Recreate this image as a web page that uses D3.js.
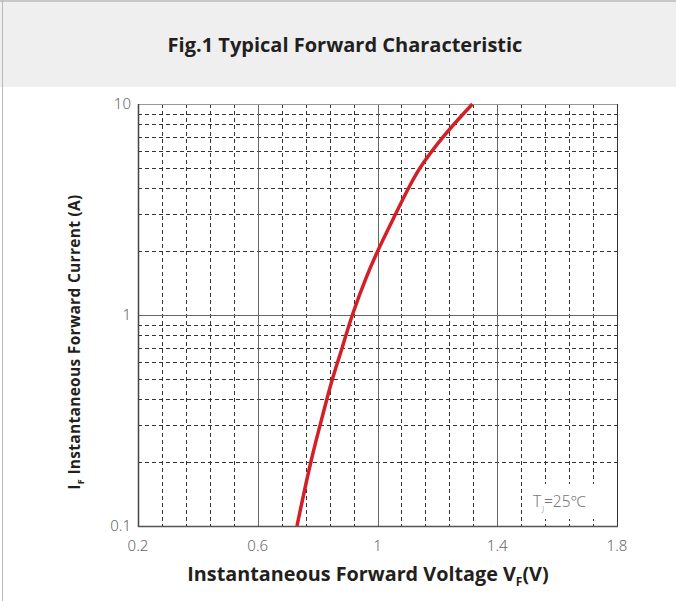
<!DOCTYPE html>
<html>
<head>
<meta charset="utf-8">
<script src="https://cdn.jsdelivr.net/npm/d3@7"></script>
<style>
  body { margin: 0; background: #fff; }
  svg { display: block; }
</style>
</head>
<body>
<div id="chart"></div>
<script>
// forward curve (current in A, voltage in V)
const currentA = [0.1, 0.2, 0.3, 0.4, 0.5, 0.7, 1, 1.5, 2, 3, 4, 5, 7, 10];
const voltageV = [0.731, 0.777, 0.808, 0.831, 0.850, 0.882, 0.916, 0.962, 1.000, 1.060, 1.104, 1.143, 1.220, 1.317];

const xTicks = [0.2, 0.6, 1, 1.4, 1.8];
const xMinor = [0.28, 0.36, 0.44, 0.52, 0.68, 0.76, 0.84, 0.92, 1.08, 1.16, 1.24, 1.32, 1.48, 1.56, 1.64, 1.72];
const yTicks = [0.1, 1, 10];
const yMinor = [0.2, 0.3, 0.4, 0.5, 0.6, 0.7, 0.8, 0.9, 2, 3, 4, 5, 6, 7, 8, 9];

const W = 676, H = 601;
const svg = d3.select('#chart').append('svg')
    .attr('width', W)
    .attr('height', H)
    .style('font-family', '"Open Sans", "Noto Sans", sans-serif');

// header band + page border
svg.append('rect').attr('x', 0).attr('y', 0).attr('width', W).attr('height', 87).attr('fill', '#efefef');
svg.append('line').attr('x1', 0).attr('x2', W).attr('y1', 1).attr('y2', 1).attr('stroke', '#c8c8c8').attr('stroke-width', 2);
svg.append('line').attr('x1', 2.5).attr('x2', 2.5).attr('y1', 0).attr('y2', H).attr('stroke', '#b8b8b8');

svg.append('text')
    .attr('x', 345).attr('y', 52)
    .attr('text-anchor', 'middle')
    .attr('font-size', 20).attr('font-weight', 700)
    .attr('fill', '#231f20')
    .text('Fig.1 Typical Forward Characteristic');

const pLeft = 138, pRight = 617, pTop = 104, pBottom = 526;
const x = d3.scaleLinear().domain([0.2, 1.8]).range([pLeft, pRight]);
const y = d3.scaleLog().domain([0.1, 10]).range([pBottom, pTop]);

// dashed grid
const grid = svg.append('g').attr('class', 'grid');
grid.selectAll('line.vx')
    .data(xMinor)
    .enter().append('line')
    .attr('x1', d => Math.round(x(d)) + 0.5).attr('x2', d => Math.round(x(d)) + 0.5)
    .attr('y1', pTop).attr('y2', pBottom)
    .attr('stroke', '#333').attr('stroke-dasharray', '4,3');
grid.selectAll('line.hy')
    .data(yMinor)
    .enter().append('line')
    .attr('y1', d => Math.round(y(d)) + 0.5).attr('y2', d => Math.round(y(d)) + 0.5)
    .attr('x1', pLeft).attr('x2', pRight)
    .attr('stroke', '#333').attr('stroke-dasharray', '4,3');

// solid major lines
grid.selectAll('line.mx')
    .data(xTicks.slice(1, -1))
    .enter().append('line')
    .attr('x1', d => Math.round(x(d)) + 0.5).attr('x2', d => Math.round(x(d)) + 0.5)
    .attr('y1', pTop).attr('y2', pBottom)
    .attr('stroke', '#666');
grid.selectAll('line.my')
    .data(yTicks.slice(1, -1))
    .enter().append('line')
    .attr('y1', d => Math.round(y(d)) + 0.5).attr('y2', d => Math.round(y(d)) + 0.5)
    .attr('x1', pLeft).attr('x2', pRight)
    .attr('stroke', '#666');

// T_J label with white patch behind it
const ann = svg.append('g');
ann.append('rect').attr('x', 534).attr('y', 484).attr('width', 68).attr('height', 35).attr('fill', '#fff');
const tj = ann.append('text')
    .attr('x', 533).attr('y', 507)
    .attr('font-size', 15.5).attr('fill', '#777')
    .style('font-family', '"Noto Sans", sans-serif')
    .style('font-weight', 300);
tj.append('tspan').text('T');
tj.append('tspan').attr('font-size', 7).attr('dx', 1).attr('dy', 4).text('J');
tj.append('tspan').attr('dy', -4).text('=25℃');

// frame
svg.append('line').attr('x1', pLeft).attr('x2', pRight).attr('y1', pTop + 0.5).attr('y2', pTop + 0.5).attr('stroke', '#999');
svg.append('line').attr('x1', pRight + 0.5).attr('x2', pRight + 0.5).attr('y1', pTop).attr('y2', pBottom).attr('stroke', '#333');
svg.append('line').attr('x1', pLeft + 0.5).attr('x2', pLeft + 0.5).attr('y1', pTop).attr('y2', pBottom + 1).attr('stroke', '#444').attr('stroke-width', 1.5);
svg.append('line').attr('x1', pLeft).attr('x2', pRight + 1).attr('y1', pBottom + 0.5).attr('y2', pBottom + 0.5).attr('stroke', '#555').attr('stroke-width', 1.5);

// curve
const pts = currentA.map((c, i) => [voltageV[i], c]);
const line = d3.line()
    .x(d => x(d[0]))
    .y(d => y(d[1]))
    .curve(d3.curveCatmullRom.alpha(0.5));
svg.append('path')
    .datum(pts)
    .attr('d', line)
    .attr('fill', 'none')
    .attr('stroke', '#d41f26')
    .attr('stroke-width', 3.5);

// tick labels
svg.selectAll('text.xt')
    .data(xTicks)
    .enter().append('text')
    .attr('x', d => x(d)).attr('y', 551)
    .attr('text-anchor', 'middle')
    .attr('font-size', 15).attr('fill', '#666')
    .style('font-family', '"Noto Sans", sans-serif')
    .style('font-weight', 300)
    .text(d => d);
svg.selectAll('text.yt')
    .data(yTicks)
    .enter().append('text')
    .attr('x', 131).attr('y', d => y(d) + 5)
    .attr('text-anchor', 'end')
    .attr('font-size', 15).attr('fill', '#666')
    .style('font-family', '"Noto Sans", sans-serif')
    .style('font-weight', 300)
    .text(d => d);

// axis titles
const xt = svg.append('text')
    .attr('x', 368).attr('y', 581)
    .attr('text-anchor', 'middle')
    .attr('font-size', 19.8).attr('font-weight', 700).attr('fill', '#231f20');
xt.append('tspan').text('Instantaneous Forward Voltage V');
xt.append('tspan').attr('font-size', 12).attr('dy', 5).text('F');
xt.append('tspan').attr('dy', -5).text('(V)');

const yt = svg.append('text')
    .attr('transform', 'translate(80,342) rotate(-90)')
    .attr('text-anchor', 'middle')
    .attr('font-size', 15.5).attr('font-weight', 700).attr('fill', '#231f20')
    .style('letter-spacing', '0.3px');
yt.append('tspan').text('I');
yt.append('tspan').attr('font-size', 9).attr('dy', 4).text('F');
yt.append('tspan').attr('dy', -4).text(' Instantaneous Forward Current (A)');
</script>
</body>
</html>
